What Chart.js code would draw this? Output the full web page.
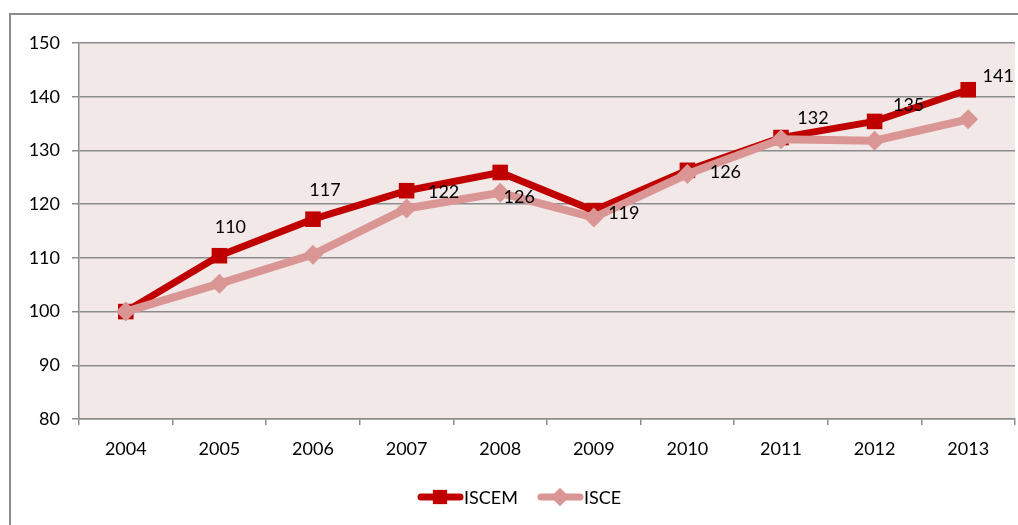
<!DOCTYPE html>
<html>
<head>
<meta charset="utf-8">
<script src="https://cdn.jsdelivr.net/npm/chart.js@4"></script>
<style>
  html, body { margin: 0; padding: 0; background: #fff; }
  #wrap { position: relative; width: 1018px; height: 525px; overflow: hidden; }
  #frame { position: absolute; left: 9px; top: 13px; width: 1100px; height: 600px;
           border-left: 2px solid #8c8c8c; border-top: 2px solid #8c8c8c; }
  canvas { position: absolute; left: 0; top: 0; }
</style>
</head>
<body>
<div id="wrap">
  <div id="frame"></div>
  <canvas id="chart" width="1018" height="525"></canvas>
</div>
<script>
// data
const years = ['2004', '2005', '2006', '2007', '2008', '2009', '2010', '2011', '2012', '2013'];
const iscem = [100, 110.4, 117.2, 122.5, 125.9, 118.8, 126.3, 132.4, 135.4, 141.3];
const isce = [100, 105.2, 110.6, 119.2, 122.1, 117.5, 125.6, 132.1, 131.8, 135.8];
const iscemLabels = ['', '110', '117', '122', '126', '119', '126', '132', '135', '141'];
const yTicks = [80, 90, 100, 110, 120, 130, 140, 150];

// where each ISCEM label sits relative to its point
const labelOffsets = [[0, 0], [11, -29], [12, -29], [37, 1], [19, 25], [30, 3], [38, 2], [32, -19], [34, -16], [30, -14]];

const red = '#c00000';
const pink = '#d99694';
const font = 'Lato, "Open Sans", sans-serif';

// pink plot background
const plotBg = {
    id: 'plotBg',
    beforeDraw(chart) {
        const a = chart.chartArea;
        const ctx = chart.ctx;
        ctx.save();
        ctx.fillStyle = '#f2e8e8';
        ctx.fillRect(a.left, a.top, a.right - a.left, a.bottom - a.top);
        ctx.restore();
    }
};

// value labels next to the ISCEM points
const valueLabels = {
    id: 'valueLabels',
    afterDatasetsDraw(chart) {
        const meta = chart.getDatasetMeta(0);
        const ctx = chart.ctx;
        ctx.save();
        ctx.font = '18px ' + font;
        ctx.fillStyle = '#000';
        ctx.textAlign = 'center';
        ctx.textBaseline = 'middle';
        meta.data.forEach((pt, i) => {
            if (!iscemLabels[i]) return;
            ctx.fillText(iscemLabels[i], pt.x + labelOffsets[i][0], pt.y + labelOffsets[i][1]);
        });
        ctx.restore();
    }
};

// legend: short line with marker, like the spreadsheet one
const lineLegend = {
    id: 'lineLegend',
    afterDraw(chart) {
        const ctx = chart.ctx;
        const y = 497;
        const items = [
            { x: 418, ds: chart.data.datasets[0], style: 'rect', r: 10 },
            { x: 538, ds: chart.data.datasets[1], style: 'rectRot', r: 9 }
        ];
        ctx.save();
        items.forEach(it => {
            ctx.strokeStyle = it.ds.borderColor;
            ctx.lineWidth = 7;
            ctx.lineCap = 'round';
            ctx.beginPath();
            ctx.moveTo(it.x + 3, y);
            ctx.lineTo(it.x + 42, y);
            ctx.stroke();
            ctx.fillStyle = it.ds.borderColor;
            Chart.helpers.drawPoint(ctx, { pointStyle: it.style, radius: it.r, borderWidth: 0 }, it.x + 22, y);
            ctx.fill();
            ctx.fillStyle = '#000';
            ctx.font = '18px ' + font;
            ctx.textBaseline = 'middle';
            ctx.fillText(it.ds.label, it.x + 46, y + 1);
        });
        ctx.restore();
    }
};

new Chart(document.getElementById('chart'), {
    type: 'line',
    data: {
        labels: years,
        datasets: [{
            label: 'ISCEM',
            data: iscem,
            borderColor: red,
            backgroundColor: red,
            borderWidth: 7,
            pointStyle: 'rect',
            pointRadius: 11,
            pointBorderWidth: 0,
            pointHoverRadius: 11,
            tension: 0,
            order: 2
        }, {
            label: 'ISCE',
            data: isce,
            borderColor: pink,
            backgroundColor: pink,
            borderWidth: 8,
            pointStyle: 'rectRot',
            pointRadius: 10,
            pointBorderWidth: 0,
            pointHoverRadius: 10,
            tension: 0,
            order: 1
        }]
    },
    options: {
        responsive: false,
        animation: false,
        layout: { autoPadding: false, padding: { top: 43, right: 3, bottom: 56, left: 0 } },
        plugins: {
            legend: { display: false },
            tooltip: { enabled: false }
        },
        scales: {
            x: {
                offset: true,
                grid: { offset: true, drawOnChartArea: false, color: '#8c8c8c', tickLength: 6, lineWidth: 1.5 },
                border: { color: '#8c8c8c', width: 1.5 },
                ticks: { color: '#000', font: { family: font, size: 18 }, padding: 13, maxRotation: 0 },
                afterFit(scale) {
                    scale.height = 50;
                    scale.paddingLeft = 0;
                    scale.paddingRight = 0;
                }
            },
            y: {
                min: 80,
                max: 150,
                afterBuildTicks(scale) { scale.ticks = yTicks.map(v => ({ value: v })); },
                grid: { color: '#8c8c8c', lineWidth: 1.5, tickLength: 7 },
                border: { color: '#8c8c8c', width: 1.5 },
                ticks: { color: '#000', font: { family: font, size: 18 }, padding: 12 },
                afterFit(scale) { scale.width = 79; }
            }
        }
    },
    plugins: [plotBg, valueLabels, lineLegend]
});
</script>
</body>
</html>
